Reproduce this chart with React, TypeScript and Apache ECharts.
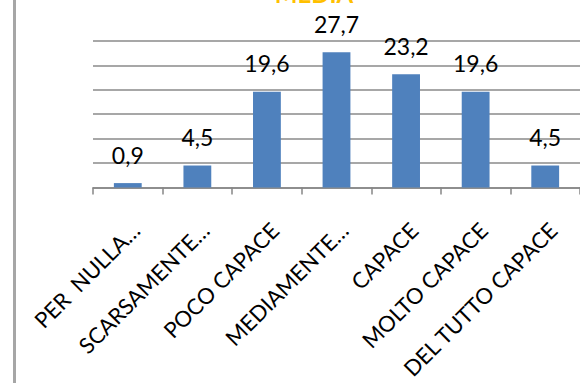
import React, { useEffect, useRef } from "react";
import * as echarts from "echarts";

const categories = [
  "PER  NULLA…",
  "SCARSAMENTE…",
  "POCO CAPACE",
  "MEDIAMENTE…",
  "CAPACE",
  "MOLTO CAPACE",
  "DEL TUTTO CAPACE",
];
const values = [0.9, 4.5, 19.6, 27.7, 23.2, 19.6, 4.5];
const title = "MEDIA";

export default function App() {
  const ref = useRef<HTMLDivElement>(null);
  useEffect(() => {
    if (!ref.current) return;
    document.body.style.margin = "0";
    document.body.style.overflow = "hidden";
    const chart = echarts.init(ref.current, null, { renderer: "svg" });
    const font = "Lato, 'Open Sans', sans-serif";
    chart.setOption({
      animation: false,
      backgroundColor: "#ffffff",
      graphic: [
        {
          type: "rect",
          shape: { x: 13, y: 0, width: 3, height: 383 },
          style: { fill: "#a6a6a6" },
          silent: true,
        },
        {
          type: "text",
          x: 314,
          y: -7,
          style: {
            text: title,
            fill: "#FFC000",
            font: `bold 24px ${font}`,
            textAlign: "center",
            textVerticalAlign: "middle",
          },
        },
      ],
      grid: { left: 93, top: 41, width: 490, height: 150, containLabel: false },
      xAxis: {
        type: "category",
        data: categories,
        axisLine: { show: true, lineStyle: { color: "#868686", width: 1.5 } },
        axisTick: { show: true, length: 7, lineStyle: { color: "#868686", width: 1.5 } },
        axisLabel: {
          interval: 0,
          rotate: 45,
          margin: 31,
          align: "right",
          verticalAlign: "top",
          color: "#000",
          fontFamily: font,
          fontSize: 22,
        },
      },
      yAxis: {
        type: "value",
        min: 0,
        max: 30,
        interval: 5,
        axisLine: { show: false },
        axisTick: { show: false },
        axisLabel: { show: false },
        splitLine: { lineStyle: { color: "#8a8a8a", width: 1.5 } },
      },
      series: [
        {
          type: "bar",
          data: values,
          barWidth: "40%",
          itemStyle: { color: "#4F81BD" },
          label: {
            show: true,
            position: "top",
            distance: 17,
            formatter: (p: any) => String(p.value).replace(".", ","),
            color: "#000",
            fontFamily: font,
            fontSize: 23,
          },
        },
      ],
    });
    return () => chart.dispose();
  }, []);
  return (
    <div
      ref={ref}
      style={{
        position: "fixed",
        left: 0,
        top: 0,
        width: 580,
        height: 383,
        overflow: "hidden",
      }}
    />
  );
}
